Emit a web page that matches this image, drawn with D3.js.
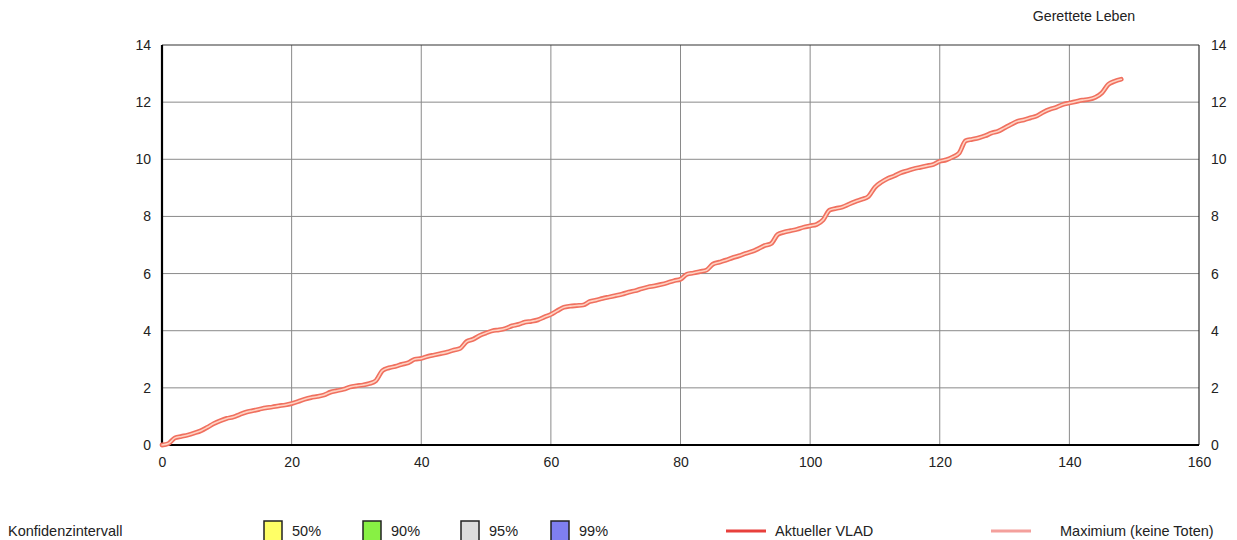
<!DOCTYPE html>
<html>
<head>
<meta charset="utf-8">
<script src="https://cdn.jsdelivr.net/npm/d3@7"></script>
<style>
  body { margin: 0; background: #fff; }
  svg { display: block; font-family: "Liberation Sans", Arial, sans-serif; }
  .tick text { font-size: 14px; fill: #222; }
</style>
</head>
<body>
<svg id="chart" width="1237" height="540"></svg>
<script>
'use strict'

/****** DATA ******/

// saved lives per day index (0..148)
const days = d3.range(0, 149)
const savedLives = [
  0, 0.05, 0.25, 0.3, 0.35, 0.42, 0.5, 0.62, 0.75, 0.85,
  0.93, 0.98, 1.07, 1.15, 1.2, 1.25, 1.3, 1.33, 1.37, 1.4,
  1.45, 1.52, 1.6, 1.66, 1.7, 1.75, 1.85, 1.9, 1.95, 2.03,
  2.07, 2.1, 2.15, 2.25, 2.6, 2.7, 2.75, 2.82, 2.88, 3.0,
  3.03, 3.1, 3.15, 3.2, 3.25, 3.32, 3.38, 3.62, 3.7, 3.83,
  3.92, 4.0, 4.03, 4.08, 4.17, 4.22, 4.3, 4.33, 4.38, 4.48,
  4.57, 4.7, 4.82, 4.86, 4.88, 4.9, 5.02, 5.07, 5.13, 5.18,
  5.23, 5.28, 5.35, 5.4, 5.47, 5.53, 5.57, 5.62, 5.68, 5.75,
  5.8, 5.98, 6.02, 6.07, 6.12, 6.33, 6.4, 6.47, 6.55, 6.62,
  6.7, 6.77, 6.87, 6.98, 7.05, 7.37, 7.45, 7.5, 7.55, 7.62,
  7.67, 7.72, 7.88, 8.22, 8.28, 8.33, 8.43, 8.52, 8.6, 8.7,
  9.02, 9.2, 9.33, 9.42, 9.53, 9.6, 9.67, 9.72, 9.77, 9.82,
  9.93, 9.98, 10.08, 10.22, 10.65, 10.7, 10.75, 10.82, 10.92, 10.98,
  11.1, 11.22, 11.33, 11.38, 11.45, 11.52, 11.65, 11.75, 11.82, 11.92,
  11.97, 12.02, 12.07, 12.1, 12.17, 12.32, 12.62, 12.73, 12.8
]

const xTicks = [0, 20, 40, 60, 80, 100, 120, 140, 160]
const yTicks = [0, 2, 4, 6, 8, 10, 12, 14]

const ciLabels = ['50%', '90%', '95%', '99%']
const ciColors = ['#ffff66', '#88f044', '#dcdcdc', '#7f7ff0']

const titleText = 'Gerettete Leben'
const ciTitle = 'Konfidenzintervall'
const lineLabels = ['Aktueller VLAD', 'Maximium (keine Toten)']
const lineColors = ['#e8403c', '#f4a09c']


/****** CHART ******/

const margin = {top: 45, right: 38, bottom: 95, left: 162}
const width = 1237 - margin.left - margin.right
const height = 540 - margin.top - margin.bottom

const svg = d3.select('#chart')

const x = d3.scaleLinear().domain([0, 160]).range([0, width])
const y = d3.scaleLinear().domain([0, 14]).range([height, 0])

const chart = svg.append('g')
  .attr('transform', `translate(${margin.left},${margin.top})`)

// grid
chart.append('g')
  .selectAll('line')
  .data(xTicks.slice(1, -1))
  .join('line')
    .attr('x1', d => x(d)).attr('x2', d => x(d))
    .attr('y1', 0).attr('y2', height)
    .attr('stroke', '#8a8a8a').attr('stroke-width', 1)

chart.append('g')
  .selectAll('line')
  .data(yTicks.slice(1, -1))
  .join('line')
    .attr('x1', 0).attr('x2', width)
    .attr('y1', d => y(d)).attr('y2', d => y(d))
    .attr('stroke', '#8a8a8a').attr('stroke-width', 1)

// frame: top and right thin
chart.append('line')
  .attr('x1', 0).attr('x2', width).attr('y1', 0).attr('y2', 0)
  .attr('stroke', '#333').attr('stroke-width', 1.2)
chart.append('line')
  .attr('x1', width).attr('x2', width).attr('y1', 0).attr('y2', height)
  .attr('stroke', '#333').attr('stroke-width', 1.2)

// axes
const xAxis = chart.append('g')
  .attr('transform', `translate(0,${height})`)
  .call(d3.axisBottom(x).tickValues(xTicks).tickSize(0).tickPadding(12))
const yAxisL = chart.append('g')
  .call(d3.axisLeft(y).tickValues(yTicks).tickSize(0).tickPadding(11))
const yAxisR = chart.append('g')
  .attr('transform', `translate(${width},0)`)
  .call(d3.axisRight(y).tickValues(yTicks).tickSize(0).tickPadding(12))

for (const ax of [xAxis, yAxisL, yAxisR]) {
  ax.select('.domain').remove()
  ax.selectAll('text').attr('font-family', '"Liberation Sans", Arial, sans-serif')
}

// thick left & bottom axis lines
chart.append('line')
  .attr('x1', 0).attr('x2', 0).attr('y1', 0).attr('y2', height + 1)
  .attr('stroke', '#000').attr('stroke-width', 2.2)
chart.append('line')
  .attr('x1', -1).attr('x2', width).attr('y1', height).attr('y2', height)
  .attr('stroke', '#000').attr('stroke-width', 2.2)

// data line: salmon outline with light core
const data = days.map((d, i) => ({day: d, value: savedLives[i]}))
const line = d3.line()
  .x(d => x(d.day))
  .y(d => y(d.value))
  .curve(d3.curveMonotoneX)

chart.append('path')
  .datum(data)
  .attr('fill', 'none')
  .attr('stroke', '#f0705f')
  .attr('stroke-width', 4.8)
  .attr('stroke-linejoin', 'round')
  .attr('stroke-linecap', 'round')
  .attr('d', line)

chart.append('path')
  .datum(data)
  .attr('fill', 'none')
  .attr('stroke', '#ffd2c2')
  .attr('stroke-width', 1.6)
  .attr('stroke-linejoin', 'round')
  .attr('stroke-linecap', 'round')
  .attr('d', line)

// title
svg.append('text')
  .attr('x', 1084).attr('y', 21)
  .attr('text-anchor', 'middle')
  .attr('font-size', 14.2).attr('fill', '#222')
  .text(titleText)


/****** LEGEND ******/

const legendY = 531

svg.append('text')
  .attr('x', 8).attr('y', legendY + 5)
  .attr('font-size', 14.5).attr('fill', '#222')
  .text(ciTitle)

const ciX = [264, 363, 461, 551]
const ciItems = svg.append('g').selectAll('g')
  .data(ciLabels)
  .join('g')
    .attr('transform', (d, i) => `translate(${ciX[i]},0)`)

ciItems.append('rect')
  .attr('x', 0).attr('y', 521)
  .attr('width', 18).attr('height', 24)
  .attr('fill', (d, i) => ciColors[i])
  .attr('stroke', '#222').attr('stroke-width', 1.5)

ciItems.append('text')
  .attr('x', 28).attr('y', legendY + 5)
  .attr('font-size', 14.5).attr('fill', '#222')
  .text(d => d)

const lineLegX = [726, 991]
const lineTextX = [775, 1060]
const lineItems = svg.append('g').selectAll('g')
  .data(lineLabels)
  .join('g')

lineItems.append('line')
  .attr('x1', (d, i) => lineLegX[i]).attr('x2', (d, i) => lineLegX[i] + 40)
  .attr('y1', legendY).attr('y2', legendY)
  .attr('stroke', (d, i) => lineColors[i])
  .attr('stroke-width', 3)

lineItems.append('text')
  .attr('x', (d, i) => lineTextX[i]).attr('y', legendY + 5)
  .attr('font-size', 14.5).attr('fill', '#222')
  .text(d => d)
</script>
</body>
</html>
